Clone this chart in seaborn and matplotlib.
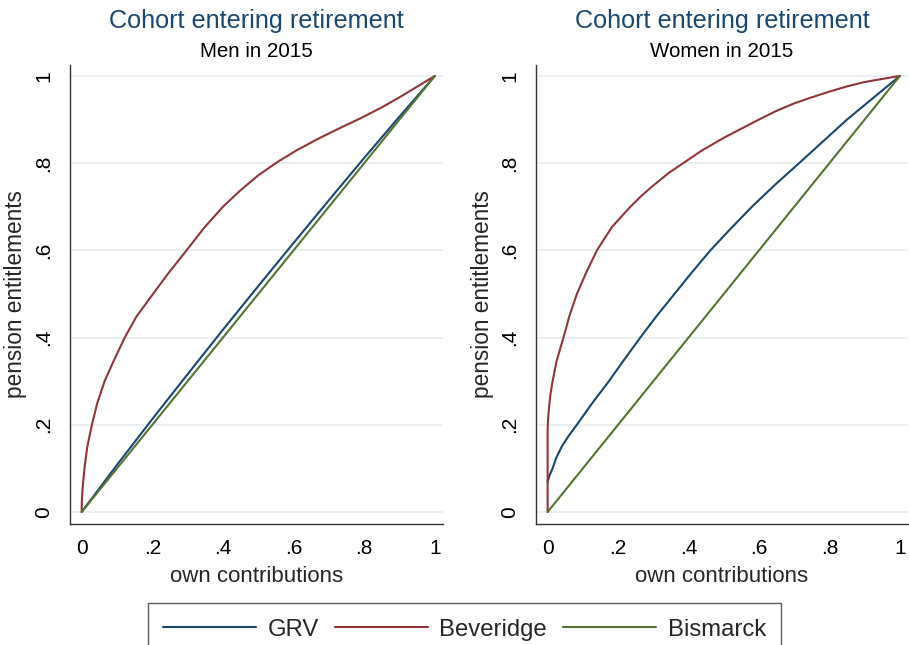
import numpy as np
import pandas as pd
import matplotlib
matplotlib.use("Agg")
import matplotlib.pyplot as plt
import seaborn as sns

# x = own contributions, y = pension entitlements
men_grv_x = [0, 0.1, 0.2, 0.3, 0.4, 0.5, 0.6, 0.7, 0.8, 0.9, 1.0]
men_grv_y = [0, 0.108, 0.213, 0.316, 0.418, 0.518, 0.617, 0.715, 0.812, 0.907, 1.0]
men_bev_x = [0, 0.0005, 0.003, 0.0085, 0.016, 0.029, 0.044, 0.065, 0.092, 0.122, 0.155, 0.202,
             0.245, 0.297, 0.345, 0.40, 0.45, 0.50, 0.555, 0.61, 0.67, 0.73, 0.79, 0.85, 0.9, 1.0]
men_bev_y = [0, 0.025, 0.058, 0.104, 0.15, 0.2, 0.249, 0.3, 0.349, 0.4, 0.448, 0.5,
             0.547, 0.6, 0.65, 0.7, 0.738, 0.772, 0.803, 0.83, 0.856, 0.88, 0.903, 0.928, 0.951, 1.0]
men_bis_x = [0, 1.0]
men_bis_y = [0, 1.0]

women_grv_x = [0, 0.002, 0.006, 0.014, 0.025, 0.04, 0.06, 0.083, 0.127, 0.174, 0.218,
               0.263, 0.31, 0.36, 0.41, 0.462, 0.52, 0.58, 0.645, 0.714, 0.782, 0.85, 0.925, 1.0]
women_grv_y = [0.069, 0.075, 0.085, 0.1, 0.125, 0.15, 0.175, 0.2, 0.25, 0.3, 0.35,
               0.4, 0.45, 0.5, 0.55, 0.6, 0.65, 0.7, 0.75, 0.8, 0.85, 0.9, 0.95, 1.0]
women_bev_x = [0, 0, 0.001, 0.004, 0.008, 0.013, 0.025, 0.045, 0.062, 0.083, 0.11, 0.14,
               0.183, 0.235, 0.265, 0.296, 0.343, 0.385, 0.44, 0.5, 0.6, 0.65, 0.7, 0.75,
               0.8, 0.85, 0.9, 1.0]
women_bev_y = [0, 0.19, 0.21, 0.24, 0.27, 0.295, 0.345, 0.4, 0.45, 0.5, 0.55, 0.6,
               0.654, 0.7, 0.724, 0.746, 0.777, 0.8, 0.83, 0.858, 0.9, 0.92, 0.937, 0.951,
               0.964, 0.976, 0.986, 1.0]
women_bis_x = [0, 1.0]
women_bis_y = [0, 1.0]

ticks = [0, 0.2, 0.4, 0.6, 0.8, 1]
tick_labels = ["0", ".2", ".4", ".6", ".8", "1"]
series_names = ["GRV", "Beveridge", "Bismarck"]
colors = {"GRV": "#1a476f", "Beveridge": "#90353b", "Bismarck": "#55752f"}

sns.set_style("white")
plt.rcParams["font.family"] = ["Liberation Sans", "DejaVu Sans"]

fig = plt.figure(figsize=(9.09, 6.45), dpi=100)
ax1 = fig.add_axes([70/909, 1-524/645, 373/909, 459/645])
ax2 = fig.add_axes([536/909, 1-524/645, 372/909, 459/645])

panels = [
    (ax1, "Men in 2015", [(men_grv_x, men_grv_y), (men_bev_x, men_bev_y), (men_bis_x, men_bis_y)]),
    (ax2, "Women in 2015", [(women_grv_x, women_grv_y), (women_bev_x, women_bev_y), (women_bis_x, women_bis_y)]),
]

for ax, sub, data in panels:
    for name, (xs, ys) in zip(series_names, data):
        df = pd.DataFrame({"x": xs, "y": ys})
        sns.lineplot(data=df, x="x", y="y", ax=ax, color=colors[name], lw=1.5,
                     estimator=None, sort=False, label=name, legend=False)
    ax.set_xlim(-0.033, 1.023)
    ax.set_ylim(-0.0275, 1.025)
    ax.set_xticks(ticks)
    ax.set_xticklabels(tick_labels)
    ax.set_yticks(ticks)
    ax.set_yticklabels(tick_labels, rotation=90, va="center")
    ax.yaxis.grid(True, color="#e6eef0", lw=1.2)
    ax.set_axisbelow(True)
    for s in ["top", "right"]:
        ax.spines[s].set_visible(False)
    for s in ["left", "bottom"]:
        ax.spines[s].set_color("#333333")
        ax.spines[s].set_linewidth(1.0)
    ax.tick_params(axis="both", direction="out", length=7, width=1, color="#333333",
                   labelsize=15, labelcolor="black")
    ax.tick_params(axis="y", pad=5)
    ax.tick_params(axis="x", pad=4)
    ax.set_xlabel("own contributions", fontsize=16)
    ax.set_ylabel("pension entitlements", fontsize=16.3)
    ax.xaxis.set_label_coords(0.5, -0.0915)
    ax.yaxis.set_label_coords(-0.114, 0.5)
    ax.text(0.5, 1.096, "Cohort entering retirement", transform=ax.transAxes,
            ha="center", va="center", fontsize=18.2, color="#1a476f")
    ax.text(0.5, 1.03, sub, transform=ax.transAxes, ha="center", va="center",
            fontsize=14.8, color="black")

handles, labels = ax1.get_legend_handles_labels()
leg = fig.legend(handles, labels, loc="upper center", bbox_to_anchor=(0.511, 1-603/645),
                 ncol=3, fontsize=17.2, frameon=True, fancybox=False, handlelength=3.9,
                 handletextpad=0.47, columnspacing=0.68, borderpad=0.65,
                 borderaxespad=0)
leg.get_frame().set_edgecolor("#333333")
leg.get_frame().set_linewidth(1.0)

fig.savefig("out.png", dpi=100)
